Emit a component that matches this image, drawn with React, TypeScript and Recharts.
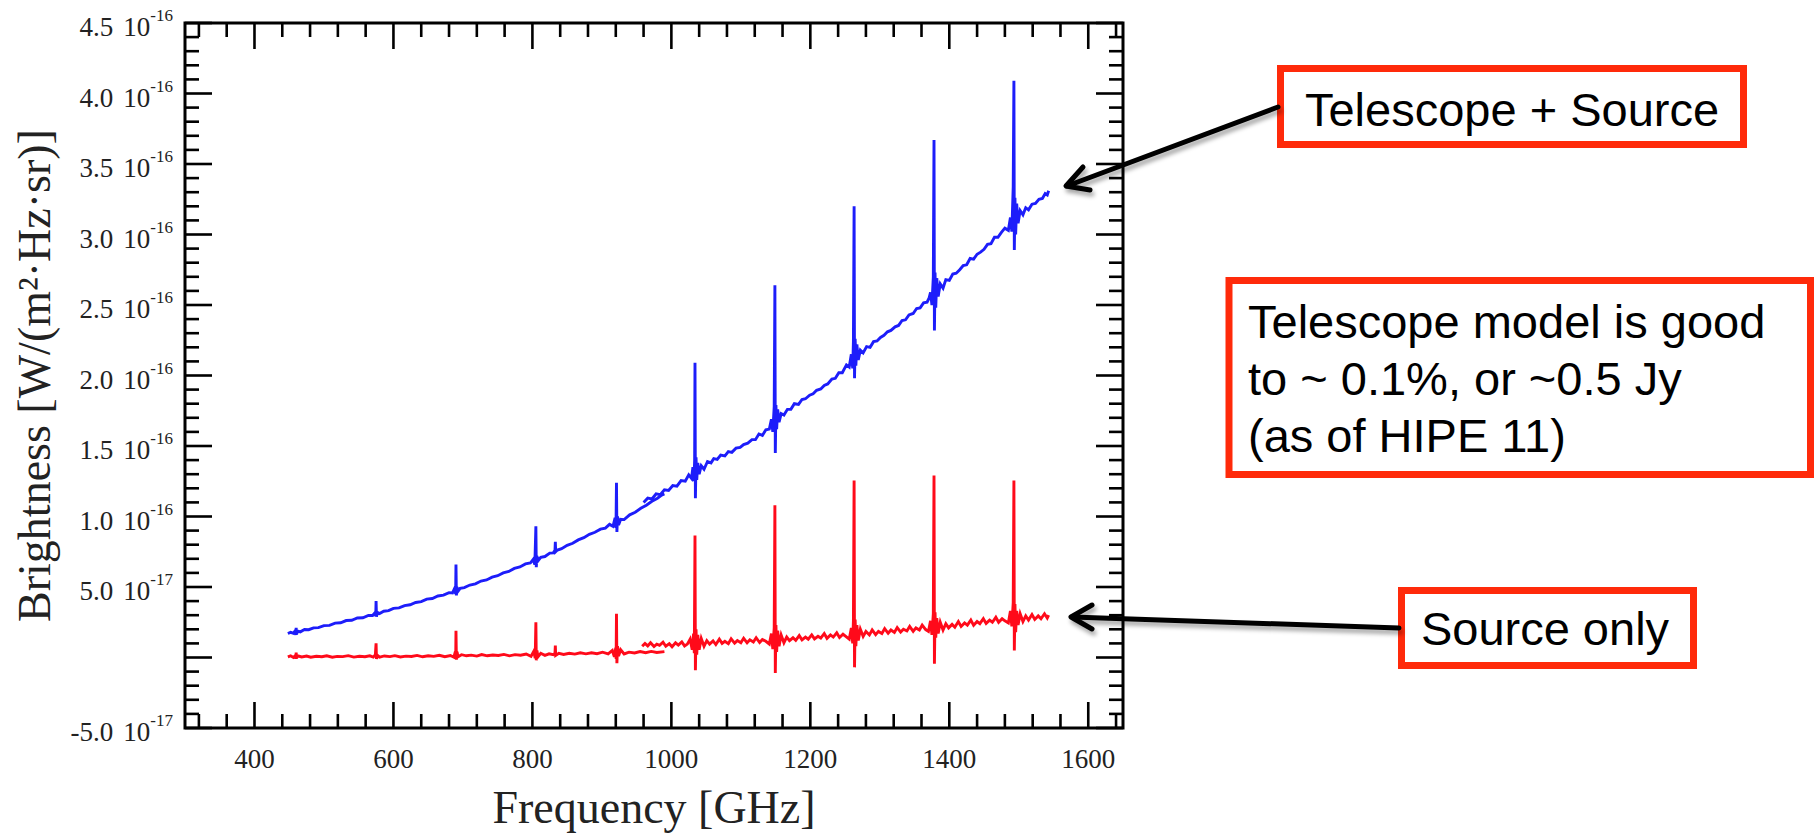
import React from 'react';
import { LineChart, Line, XAxis, YAxis, ReferenceArea } from 'recharts';

type Pt = [number, number];

// Frequency in GHz, brightness in units of 1e-17 W/(m²·Hz·sr)
const X_TICK_LABELS = [400, 600, 800, 1000, 1200, 1400, 1600];
const X_MINOR_STEP = 40;
const Y_TICK_LABELS: { v: number; m: string; e: string }[] = [
  { v: 45, m: '4.5', e: '-16' },
  { v: 40, m: '4.0', e: '-16' },
  { v: 35, m: '3.5', e: '-16' },
  { v: 30, m: '3.0', e: '-16' },
  { v: 25, m: '2.5', e: '-16' },
  { v: 20, m: '2.0', e: '-16' },
  { v: 15, m: '1.5', e: '-16' },
  { v: 10, m: '1.0', e: '-16' },
  { v: 5, m: '5.0', e: '-17' },
  { v: -5, m: '-5.0', e: '-17' },
];
const Y_MAJOR = [-5, 0, 5, 10, 15, 20, 25, 30, 35, 40, 45];

// Telescope + Source, low-frequency band
const BLUE_LOW: Pt[] = [
  [448, 1.7], [452, 1.78], [456, 1.72], [458, 1.85], [459.5, 1.6], [460, 2.1], [460.6, 1.65], [462, 1.88],
  [466, 1.82], [472, 1.98], [478, 1.97], [485, 2.1], [492, 2.12], [500, 2.26], [508, 2.28], [516, 2.44],
  [524, 2.46], [532, 2.62], [540, 2.64], [548, 2.8], [556, 2.82], [564, 2.98], [570, 2.98], [573, 3.15],
  [574.5, 2.95], [575, 4.0], [575.6, 2.9], [577, 3.2], [580, 3.12], [586, 3.28], [593, 3.32], [600, 3.48],
  [608, 3.52], [616, 3.68], [624, 3.74], [632, 3.9], [640, 3.96], [648, 4.14], [656, 4.18], [664, 4.36],
  [672, 4.42], [680, 4.6], [685, 4.58], [688, 4.9], [689.5, 4.5], [690, 6.6], [690.6, 4.4], [691.5, 5.0],
  [693, 4.7], [696, 4.9], [702, 4.96], [710, 5.14], [718, 5.22], [726, 5.42], [734, 5.5], [742, 5.7],
  [750, 5.8], [758, 6.0], [766, 6.1], [774, 6.32], [782, 6.42], [790, 6.64], [797, 6.7], [801, 6.95],
  [803.5, 6.6], [805, 9.3], [805.6, 6.4], [806.5, 7.2], [808, 6.85], [812, 7.1], [818, 7.16], [825, 7.4],
  [830, 7.42], [832.5, 7.6], [833, 8.2], [833.5, 7.5], [836, 7.62], [842, 7.72], [850, 7.96], [858, 8.1],
  [866, 8.34], [874, 8.5], [882, 8.74], [890, 8.88], [898, 9.1], [905, 9.18], [911, 9.44], [916, 9.3],
  [919, 9.9], [920.3, 9.2], [921, 12.4], [921.6, 8.9], [922.5, 10.0], [924, 9.4], [927, 9.8], [932, 9.78],
  [940, 10.12], [948, 10.3], [956, 10.58], [964, 10.8], [972, 11.08], [980, 11.3], [986, 11.52], [990, 11.6],
];

// Telescope + Source, high-frequency band
const BLUE_HIGH: Pt[] = [
  [960, 11.0], [966, 11.3], [972, 11.25], [978, 11.6], [984, 11.55], [990, 11.9], [996, 11.85], [1002, 12.2],
  [1008, 12.15], [1014, 12.55], [1020, 12.5], [1025, 12.95], [1029, 12.7], [1031, 13.5], [1032.5, 12.5],
  [1033.5, 14.0], [1034, 20.9], [1034.6, 11.3], [1035.5, 14.2], [1036.5, 12.6], [1038, 13.8], [1040, 13.0],
  [1043, 13.6], [1047, 13.35], [1052, 13.9], [1057, 13.8], [1061, 14.1], [1066, 14.05], [1071, 14.35],
  [1077, 14.3], [1082, 14.6], [1087, 14.55], [1093, 14.85], [1099, 14.9], [1104, 15.1], [1110, 15.2],
  [1116, 15.45], [1121, 15.45], [1126, 15.85], [1131, 15.75], [1136, 16.15], [1141, 16.2], [1144, 16.9],
  [1146, 16.0], [1148, 17.8], [1149, 26.4], [1149.6, 14.5], [1150.5, 17.9], [1151.5, 16.2], [1153, 17.6],
  [1155, 16.7], [1158, 17.3], [1162, 17.2], [1167, 17.6], [1172, 17.6], [1177, 18.0], [1183, 17.95],
  [1188, 18.3], [1193, 18.35], [1199, 18.6], [1204, 18.7], [1209, 18.95], [1215, 19.05], [1220, 19.3],
  [1225, 19.4], [1231, 19.75], [1236, 19.8], [1241, 20.2], [1246, 20.2], [1252, 20.75], [1256, 20.6],
  [1259, 21.5], [1261, 20.5], [1262, 22.4], [1263, 32.0], [1263.6, 19.8], [1264.5, 22.6], [1265.5, 20.7],
  [1267, 22.2], [1269, 21.1], [1272, 21.8], [1276, 21.6], [1281, 22.05], [1286, 22.0], [1291, 22.4],
  [1296, 22.45], [1301, 22.7], [1306, 22.85], [1311, 23.1], [1316, 23.2], [1322, 23.45], [1327, 23.55],
  [1332, 23.9], [1337, 23.95], [1342, 24.3], [1348, 24.4], [1353, 24.75], [1358, 24.8], [1363, 25.15],
  [1368, 25.2], [1371, 25.5], [1373, 25.9], [1375, 25.0], [1377, 27.0], [1378, 36.7], [1378.6, 23.2],
  [1379.5, 27.3], [1380.5, 24.8], [1382, 26.9], [1384, 25.6], [1387, 26.5], [1391, 26.2], [1395, 26.8],
  [1400, 26.75], [1405, 27.2], [1410, 27.25], [1415, 27.5], [1420, 27.8], [1425, 27.85], [1430, 28.3],
  [1435, 28.25], [1440, 28.6], [1445, 28.75], [1450, 28.95], [1455, 29.3], [1460, 29.35], [1465, 29.8],
  [1470, 29.8], [1475, 30.15], [1480, 30.45], [1485, 30.3], [1488, 31.2], [1490, 30.2], [1492, 33.4],
  [1493, 40.9], [1493.6, 28.9], [1494.5, 32.6], [1495.5, 30.0], [1497, 32.2], [1499, 30.8], [1502, 31.7],
  [1506, 31.4], [1510, 31.9], [1514, 31.75], [1519, 32.15], [1524, 32.2], [1529, 32.5], [1534, 32.55],
  [1538, 32.9], [1541, 32.8], [1543, 33.1],
];

// Source only, low-frequency band
const RED_LOW: Pt[] = [
  [448, 0.05], [452, 0.12], [456, 0.0], [459, 0.15], [459.6, -0.1], [460, 0.35], [460.6, -0.05], [462, 0.12],
  [468, 0.04], [475, 0.1], [481, 0.02], [489, 0.09], [497, 0.05], [504, 0.12], [512, 0.02], [519, 0.08],
  [527, 0.06], [535, 0.13], [543, 0.03], [551, 0.09], [559, 0.05], [566, 0.12], [571, 0.03], [574, 0.2],
  [575, 1.0], [575.6, -0.1], [577, 0.15], [580, 0.03], [587, 0.11], [595, 0.06], [602, 0.13], [610, 0.04],
  [618, 0.1], [626, 0.07], [634, 0.15], [642, 0.05], [650, 0.12], [658, 0.08], [666, 0.16], [674, 0.06],
  [682, 0.14], [687, 0.02], [689, 0.4], [689.6, -0.1], [690, 1.9], [690.6, -0.15], [691.5, 0.4], [693, 0.05],
  [698, 0.2], [705, 0.12], [712, 0.17], [720, 0.1], [727, 0.21], [735, 0.12], [743, 0.18], [751, 0.14],
  [759, 0.22], [767, 0.12], [775, 0.2], [783, 0.16], [791, 0.25], [798, 0.08], [802, 0.45], [804, -0.05],
  [805, 2.5], [805.6, -0.2], [806.5, 0.5], [808, 0.05], [812, 0.3], [818, 0.15], [824, 0.26], [830, 0.2],
  [832.5, 0.3], [833, 0.85], [833.5, 0.15], [838, 0.3], [845, 0.22], [853, 0.3], [861, 0.24], [869, 0.33],
  [877, 0.26], [885, 0.34], [893, 0.27], [901, 0.38], [909, 0.26], [915, 0.5], [918, 0.05], [920, 0.7],
  [920.5, -0.1], [921, 3.1], [921.6, -0.4], [922.5, 0.8], [924, 0.1], [927, 0.55], [932, 0.25], [939, 0.38],
  [947, 0.32], [955, 0.42], [963, 0.34], [971, 0.43], [979, 0.36], [990, 0.42],
];

// Source only, high-frequency band
const RED_HIGH: Pt[] = [
  [958, 0.8], [962, 1.0], [966, 0.82], [970, 1.05], [975, 0.78], [979, 0.95], [983, 0.86], [988, 1.08],
  [992, 0.8], [997, 0.98], [1001, 0.76], [1006, 1.04], [1010, 0.88], [1015, 1.1], [1019, 0.82], [1023, 0.95],
  [1027, 1.3], [1030, 0.55], [1032, 1.7], [1033, 0.3], [1034, 8.65], [1034.6, -0.9], [1035.5, 2.0],
  [1036.5, 0.2], [1038, 1.6], [1040, 0.55], [1043, 1.35], [1047, 0.8], [1051, 1.2], [1055, 0.95], [1060, 1.18],
  [1064, 0.92], [1069, 1.3], [1073, 1.0], [1077, 1.15], [1082, 0.98], [1086, 1.32], [1091, 1.02], [1095, 1.2],
  [1100, 1.05], [1104, 1.36], [1109, 1.04], [1113, 1.25], [1118, 1.1], [1122, 1.4], [1127, 1.06], [1131, 1.28],
  [1136, 1.15], [1141, 0.95], [1144, 1.7], [1146, 0.6], [1148, 2.1], [1149, 10.8], [1149.6, -1.1],
  [1150.5, 2.3], [1151.5, 0.4], [1153, 1.9], [1155, 0.8], [1158, 1.6], [1162, 1.05], [1166, 1.45],
  [1170, 1.2], [1175, 1.4], [1179, 1.22], [1184, 1.55], [1188, 1.25], [1193, 1.45], [1197, 1.3], [1202, 1.6],
  [1206, 1.32], [1211, 1.5], [1215, 1.38], [1220, 1.7], [1224, 1.36], [1229, 1.6], [1233, 1.45], [1238, 1.75],
  [1242, 1.42], [1247, 1.65], [1251, 1.5], [1256, 1.3], [1259, 2.1], [1261, 1.0], [1262, 2.6], [1263, 12.55],
  [1263.6, -0.7], [1264.5, 2.7], [1265.5, 0.8], [1267, 2.3], [1269, 1.2], [1272, 2.0], [1276, 1.5],
  [1280, 1.85], [1285, 1.6], [1289, 1.95], [1294, 1.62], [1298, 1.85], [1303, 1.7], [1307, 2.05],
  [1312, 1.72], [1316, 1.95], [1321, 1.78], [1325, 2.12], [1330, 1.8], [1334, 2.0], [1339, 1.88],
  [1343, 2.2], [1348, 1.86], [1352, 2.1], [1357, 1.95], [1361, 2.3], [1366, 1.98], [1370, 1.85], [1373, 2.6],
  [1375, 1.6], [1377, 3.1], [1378, 12.9], [1378.6, -0.45], [1379.5, 3.2], [1380.5, 1.4], [1382, 2.8],
  [1384, 1.7], [1387, 2.5], [1391, 1.95], [1395, 2.4], [1399, 2.1], [1404, 2.35], [1408, 2.15], [1413, 2.55],
  [1417, 2.2], [1422, 2.45], [1426, 2.3], [1431, 2.65], [1435, 2.28], [1440, 2.55], [1444, 2.4], [1449, 2.75],
  [1453, 2.42], [1458, 2.65], [1462, 2.5], [1467, 2.85], [1471, 2.5], [1476, 2.75], [1480, 2.6], [1485, 2.45],
  [1488, 3.3], [1490, 2.2], [1492, 3.9], [1493, 12.55], [1493.6, 0.5], [1494.5, 3.8], [1495.5, 1.8],
  [1497, 3.3], [1499, 2.3], [1502, 3.1], [1506, 2.55], [1510, 2.95], [1514, 2.65], [1519, 3.05], [1523, 2.7],
  [1528, 2.95], [1532, 2.75], [1537, 3.1], [1541, 2.8], [1543, 3.0],
];

const toRows = (pts: Pt[]) => pts.map(([f, v]) => ({ f, v }));

const W = 1817;
const H = 835;
const PLOT_TOP = 23;
const PLOT_RIGHT = 1123;
const SERIF = '"Liberation Serif", "Times New Roman", serif';
const SANS = '"Liberation Sans", Arial, Helvetica, sans-serif';
const BLUE = '#1d1dfa';
const RED = '#ff0a1a';
const BOX = '#ff2a0a';
const LINE_W = 2.9;

const X_DOMAIN: [number, number] = [300, 1650];
const Y_DOMAIN: [number, number] = [-5, 45];
const X_TICKS: number[] = [];
for (let t = X_DOMAIN[0] + 20; t < X_DOMAIN[1]; t += X_MINOR_STEP) X_TICKS.push(t);
const Y_TICKS: number[] = [];
for (let t = Y_DOMAIN[0]; t <= Y_DOMAIN[1]; t += 1) Y_TICKS.push(t);

function XTick(props: any) {
  const { x, y, payload } = props;
  const v = payload.value;
  const major = X_TICK_LABELS.includes(v);
  const len = major ? 26 : 14;
  return (
    <g>
      <line x1={x} x2={x} y1={y} y2={y - len} stroke="#000" strokeWidth={2.6} />
      <line x1={x} x2={x} y1={PLOT_TOP} y2={PLOT_TOP + len} stroke="#000" strokeWidth={2.6} />
      {major && (
        <text x={x} y={y + 40} textAnchor="middle" fontFamily={SERIF} fontSize={27} fill="#222">
          {v}
        </text>
      )}
    </g>
  );
}

function YTick(props: any) {
  const { x, y, payload } = props;
  const v = payload.value;
  const major = Y_MAJOR.includes(v);
  const len = major ? 27 : 14;
  const lab = Y_TICK_LABELS.find((d) => d.v === v);
  return (
    <g>
      <line x1={x} x2={x + len} y1={y} y2={y} stroke="#000" strokeWidth={2.6} />
      <line x1={PLOT_RIGHT} x2={PLOT_RIGHT - len} y1={y} y2={y} stroke="#000" strokeWidth={2.6} />
      {lab && (
        <text x={x - 12} y={y + 13} textAnchor="end" fontFamily={SERIF} fontSize={27} fill="#222">
          {lab.m}
          <tspan dx={10}>10</tspan>
          <tspan dy={-15} fontSize={17}>{lab.e}</tspan>
        </text>
      )}
    </g>
  );
}

function Annotations() {
  return (
    <svg
      width={W}
      height={H}
      style={{ position: 'absolute', left: 0, top: 0, pointerEvents: 'none' }}
    >
      <defs>
        <filter id="shadow" x="-20%" y="-50%" width="140%" height="200%">
          <feDropShadow dx="2" dy="4" stdDeviation="2.2" floodColor="#000" floodOpacity="0.35" />
        </filter>
      </defs>
      {/* Telescope + Source */}
      <rect x={1280.5} y={68.5} width={463} height={76} fill="#fff" stroke={BOX} strokeWidth={7} />
      <text x={1512} y={126} textAnchor="middle" fontFamily={SANS} fontSize={47} fill="#000">
        Telescope + Source
      </text>
      <g filter="url(#shadow)" stroke="#000" strokeWidth={5} fill="none" strokeLinecap="round" strokeLinejoin="round">
        <line x1={1278} y1={107} x2={1067} y2={186} />
        <polyline points="1083,167 1066,186 1090,190" />
      </g>

      {/* Model accuracy */}
      <rect x={1229} y={280.5} width={581.5} height={194} fill="#fff" stroke={BOX} strokeWidth={7} />
      <text fontFamily={SANS} fontSize={47} fill="#000">
        <tspan x={1248} y={338}>Telescope model is good</tspan>
        <tspan x={1248} y={395}>to ~ 0.1%, or ~0.5 Jy</tspan>
        <tspan x={1248} y={452}>(as of HIPE 11)</tspan>
      </text>

      {/* Source only */}
      <rect x={1401.5} y={590.5} width={292} height={75} fill="#fff" stroke={BOX} strokeWidth={7} />
      <text x={1545} y={645} textAnchor="middle" fontFamily={SANS} fontSize={47} fill="#000">
        Source only
      </text>
      <g filter="url(#shadow)" stroke="#000" strokeWidth={5} fill="none" strokeLinecap="round" strokeLinejoin="round">
        <line x1={1399} y1={628} x2={1072} y2={617} />
        <polyline points="1092,605 1071,617 1092,629" />
      </g>
    </svg>
  );
}

export default function App() {
  return (
    <div style={{ position: 'absolute', left: 0, top: 0, width: W, height: H, background: '#fff' }}>
      <LineChart width={W} height={H} margin={{ top: PLOT_TOP, right: W - PLOT_RIGHT, bottom: 0, left: 0 }}>
        <XAxis
          type="number"
          dataKey="f"
          domain={X_DOMAIN}
          allowDataOverflow
          ticks={X_TICKS}
          interval={0}
          height={107}
          tickSize={0}
          tickMargin={0}
          tickLine={false}
          axisLine={false}
          tick={(p: any) => <XTick {...p} />}
          label={{
            content: (p: any) => {
              const vb = p.viewBox || {};
              return (
                <text
                  x={(vb.x ?? 185) + (vb.width ?? 938) / 2}
                  y={823}
                  textAnchor="middle"
                  fontFamily={SERIF}
                  fontSize={46}
                  fill="#222"
                >
                  Frequency [GHz]
                </text>
              );
            },
          }}
        />
        <YAxis
          type="number"
          domain={Y_DOMAIN}
          allowDataOverflow
          ticks={Y_TICKS}
          interval={0}
          width={185}
          tickSize={0}
          tickMargin={0}
          tickLine={false}
          axisLine={false}
          tick={(p: any) => <YTick {...p} />}
          label={{
            content: (p: any) => {
              const vb = p.viewBox || {};
              const cy = (vb.y ?? 23) + (vb.height ?? 705) / 2;
              return (
                <text
                  x={50}
                  y={cy}
                  transform={`rotate(-90 50 ${cy})`}
                  textAnchor="middle"
                  fontFamily={SERIF}
                  fontSize={46}
                  fill="#222"
                >
                  Brightness [W/(m²·Hz·sr)]
                </text>
              );
            },
          }}
        />
        <ReferenceArea x1={300} x2={1650} y1={-5} y2={45} fill="none" stroke="#000" strokeWidth={3} fillOpacity={0} />
        <Line data={toRows(BLUE_LOW)} dataKey="v" type="linear" stroke={BLUE} strokeWidth={LINE_W} dot={false} isAnimationActive={false} />
        <Line data={toRows(BLUE_HIGH)} dataKey="v" type="linear" stroke={BLUE} strokeWidth={LINE_W} dot={false} isAnimationActive={false} />
        <Line data={toRows(RED_LOW)} dataKey="v" type="linear" stroke={RED} strokeWidth={LINE_W} dot={false} isAnimationActive={false} />
        <Line data={toRows(RED_HIGH)} dataKey="v" type="linear" stroke={RED} strokeWidth={LINE_W} dot={false} isAnimationActive={false} />
      </LineChart>
      <Annotations />
    </div>
  );
}
